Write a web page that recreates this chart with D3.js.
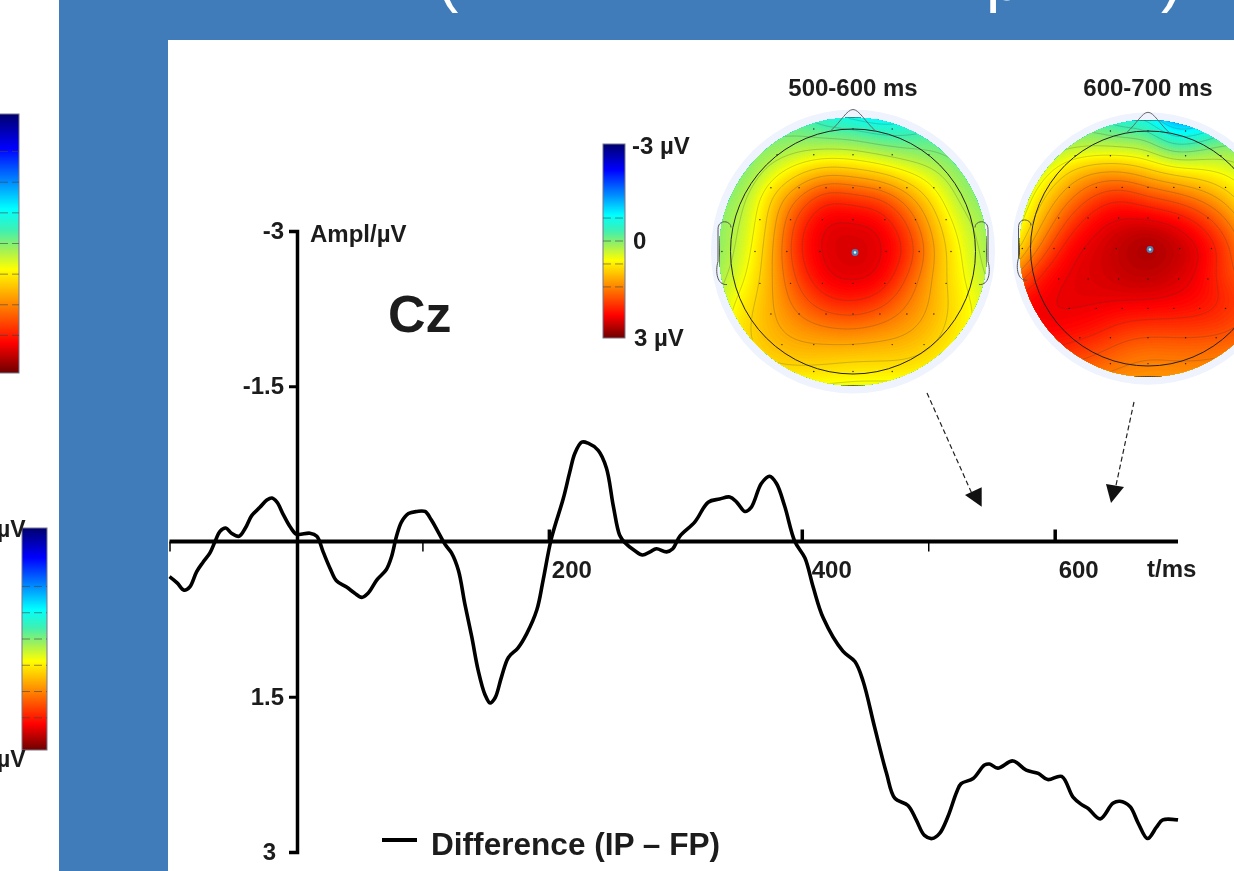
<!DOCTYPE html>
<html>
<head>
<meta charset="utf-8">
<script src="https://cdn.jsdelivr.net/npm/d3@7"></script>
<style>
  body { margin: 0; background: #fff; overflow: hidden; }
  svg { display: block; filter: blur(0.55px); }
  text { font-family: "Liberation Sans", Arial, sans-serif; font-weight: bold; fill: #1c1c1c; }
</style>
</head>
<body>
<div id="chart"></div>
<script>
// difference wave at Cz
var times = [-100,-94,-88.5,-84,-78.5,-73.5,-68,-64,-60,-55.5,-51,-45,-40,-35,-28.5,-23,-19,-15,-10,-4.5,0.5,11,16.5,21.5,27,32,40,46.5,52,57,64,71.5,75.5,79.5,83.5,89,95.5,102,107,112.5,118,123,128.5,133.5,139,144,149.5,153.5,157.5,162.5,168,175.5,182.5,190.5,195.5,202,211.5,216.5,220.5,226,231,239,245.5,251,256,260,268,274,280,285,293,298,303.5,315.5,326,335,343,348.5,355,360,368,374.5,380,386.5,394.5,402.5,409,417,432.5,442,448.5,457.5,467,473.5,484,490.5,497,503,509,515.5,522.5,526,535.5,544.5,548.5,555,567,577.5,587,594.5,605.5,614.5,621,626.5,636,646,651.5,659.5,666,673.5,680.5,685.5,697.5];
var amplitudes = [0.34,0.40,0.47,0.44,0.29,0.20,0.11,0,-0.10,-0.13,-0.08,-0.05,-0.13,-0.25,-0.33,-0.40,-0.42,-0.38,-0.26,-0.14,-0.07,-0.08,-0.05,0.10,0.26,0.38,0.44,0.50,0.54,0.50,0.37,0.27,0.15,-0.05,-0.19,-0.27,-0.29,-0.29,-0.21,-0.09,0.03,0.11,0.28,0.60,0.92,1.24,1.48,1.56,1.51,1.31,1.12,1.03,0.89,0.66,0.37,-0.03,-0.42,-0.67,-0.85,-0.96,-0.95,-0.88,-0.71,-0.34,-0.06,0.01,0.09,0.13,0.10,0.07,0.10,0.07,-0.05,-0.19,-0.38,-0.41,-0.43,-0.38,-0.29,-0.33,-0.56,-0.63,-0.56,-0.34,0,0.16,0.44,0.74,1.06,1.16,1.35,1.79,2.24,2.48,2.55,2.69,2.84,2.87,2.82,2.66,2.42,2.34,2.29,2.16,2.15,2.19,2.12,2.21,2.24,2.30,2.27,2.47,2.54,2.58,2.68,2.53,2.51,2.56,2.72,2.87,2.76,2.69,2.69];

var yTicks = [-3, -1.5, 1.5, 3];
var xMajorTicks = [200, 400, 600];
var xMajorLabelShift = [23, 30, 24];
var xMinorTicks = [-100, 100, 500];

// colour bar stops (uV -> colour)
var colorValues = [-3, -2.2, -1.4, -0.8, -0.3, 0.1, 0.6, 1.0, 1.45, 2.3, 3];
var colorStops = ['#00006e', '#0000ff', '#0090ff', '#00ffff', '#40f0b0', '#98f060', '#ffff00', '#ffc400', '#ff8000', '#ff0000', '#6e0000'];
var barTicks = [-2.13, -1.42, -0.71, 0, 0.71, 1.42, 2.13];

// scalp maps: uV on an 11x11 grid, top row = front of the head
var map500 = [
  [-0.1,-0.1,-0.1,-0.2,-0.5,-0.6,-0.8,-0.7,-0.4,-0.2,-0.1],
  [0,0,0,0.1,0.15,0.15,0,-0.1,-0.1,-0.2,-0.2],
  [-0.1,0,0.45,0.85,1.1,1.0,0.85,0.6,0.35,0.05,-0.1],
  [0,0.25,1.0,1.6,2.15,2.0,1.9,1.4,0.8,0.2,0],
  [0.1,0.35,1.1,2.1,2.5,2.5,2.45,1.9,1.1,0.45,0.15],
  [0.1,0.45,1.2,2.2,2.5,2.5,2.5,2.15,1.25,0.6,0.2],
  [0.2,0.6,1.2,1.95,2.45,2.5,2.45,1.8,1.15,0.65,0.3],
  [0.4,0.8,1.2,1.65,2.0,2.1,1.9,1.5,1.15,0.75,0.45],
  [0.5,0.9,1.15,1.3,1.4,1.45,1.35,1.25,1.05,0.7,0.5],
  [0.6,0.8,1.0,1.05,1.0,0.95,0.95,0.95,0.8,0.6,0.5],
  [0.5,0.55,0.6,0.6,0.6,0.55,0.55,0.55,0.5,0.45,0.4]
];
var map600 = [
  [-0.1,-0.1,-0.1,-0.2,-0.5,-0.5,-1.3,-1.2,-0.6,-0.3,-0.2],
  [0,0.1,0.2,0.25,0.25,0.2,-0.3,-0.1,0.1,0,0],
  [0.1,0.5,1.0,1.25,1.25,1.0,0.8,0.7,0.55,0.3,0.1],
  [0.3,0.95,1.5,1.95,2.15,1.85,1.7,1.45,1.1,0.6,0.3],
  [0.55,1.3,2.0,2.4,2.5,2.55,2.45,2.15,1.65,1.0,0.5],
  [0.9,1.75,2.4,2.5,2.65,2.8,2.65,2.5,2.0,1.3,0.7],
  [1.6,2.3,2.45,2.5,2.6,2.65,2.55,2.4,1.9,1.6,1.2],
  [2.3,2.4,2.45,2.45,2.45,2.45,2.4,2.3,2.1,1.9,1.6],
  [2.35,2.4,2.35,2.25,2.05,2.0,2.0,2.0,1.95,1.7,1.6],
  [2.0,2.1,2.0,1.85,1.65,1.55,1.6,1.6,1.55,1.5,1.4],
  [1.7,1.7,1.6,1.5,1.4,1.35,1.35,1.35,1.3,1.25,1.2]
];

// electrode rows, in head radii
var sensorRowsV = [-1, -0.79, -0.52, -0.26, 0, 0.26, 0.51, 0.76, 0.98];
var sensorRowsU = [
  [-0.32, 0, 0.32],
  [-0.62, -0.32, 0, 0.32, 0.62],
  [-0.67, -0.44, -0.22, 0, 0.22, 0.44, 0.66],
  [-0.76, -0.51, -0.25, 0, 0.26, 0.51, 0.76],
  [-1.07, -0.8, -0.54, -0.27, 0, 0.27, 0.54, 0.8, 1.07],
  [-0.76, -0.51, -0.25, 0, 0.26, 0.51, 0.76],
  [-0.67, -0.44, -0.22, 0, 0.22, 0.44, 0.66],
  [-0.58, -0.32, 0, 0.32, 0.58],
  [-0.32, 0, 0.32]
];

var svgWidth = 1234;
var svgHeight = 871;

var svg = d3.select('#chart')
  .append('svg')
  .attr('width', svgWidth)
  .attr('height', svgHeight);

// slide background
svg.append('rect').attr('x', 59).attr('y', 0).attr('width', svgWidth - 59).attr('height', svgHeight).attr('fill', '#3f7cb9');
svg.append('rect').attr('x', 168).attr('y', 40).attr('width', svgWidth - 168).attr('height', svgHeight - 40).attr('fill', '#fff');

// bottoms of the slide title, the rest is off the page
var titleGroup = svg.append('g').attr('class', 'title');
titleGroup.selectAll('text')
  .data([{ s: '(', x: 437 }, { s: 'p', x: 986 }, { s: ')', x: 1161 }])
  .enter()
  .append('text')
  .attr('x', d => d.x)
  .attr('y', 0)
  .attr('font-size', 64)
  .style('font-weight', 'normal')
  .style('fill', '#fff')
  .text(d => d.s);

var color = d3.scaleLinear().domain(colorValues).range(colorStops);

var gradient = svg.append('defs').append('linearGradient')
  .attr('id', 'jet').attr('x1', 0).attr('x2', 0).attr('y1', 0).attr('y2', 1);
gradient.selectAll('stop')
  .data(colorValues)
  .enter()
  .append('stop')
  .attr('offset', d => (d + 3) / 6)
  .attr('stop-color', d => color(d));

function drawBar(x, width, top, bottom, ticks) {
  var scale = d3.scaleLinear().domain([-3, 3]).range([top, bottom]);
  svg.append('rect')
    .attr('x', x).attr('y', top).attr('width', width).attr('height', bottom - top)
    .attr('fill', 'url(#jet)')
    .attr('stroke', '#77778a').attr('stroke-width', 1);
  svg.selectAll(null)
    .data(ticks)
    .enter()
    .append('line')
    .attr('x1', x).attr('x2', x + width)
    .attr('y1', d => scale(d)).attr('y2', d => scale(d))
    .attr('stroke', '#444').attr('stroke-opacity', 0.6)
    .attr('stroke-dasharray', '8 4');
}

drawBar(-12, 31, 114, 373, barTicks);
drawBar(22, 25, 528, 750, barTicks.slice(1));
drawBar(603, 22, 144, 338, barTicks.slice(2, 6));

var sideLabels = [
  { s: 'µV', x: -3, y: 537, size: 23 },
  { s: 'µV', x: -3, y: 767, size: 23 },
  { s: '-3 µV', x: 632, y: 154, size: 24 },
  { s: '0', x: 633, y: 249, size: 24 },
  { s: '3 µV', x: 634, y: 346, size: 24 }
];
svg.selectAll(null)
  .data(sideLabels)
  .enter()
  .append('text')
  .attr('x', d => d.x).attr('y', d => d.y)
  .attr('font-size', d => d.size)
  .text(d => d.s);

// smooth the read grid before contouring, just for drawing
function upsample(grid, n) {
  var rows = grid.map(r => d3.quantize(d3.interpolateBasis(r), n));
  var cols = d3.range(n).map(i => d3.quantize(d3.interpolateBasis(rows.map(r => r[i])), n));
  var flat = [];
  for (var j = 0; j < n; j++) {
    for (var i = 0; i < n; i++) {
      flat.push(cols[i][j]);
    }
  }
  return flat;
}

function drawMap(id, grid, cx, cy, radius, label) {
  var k = radius / 122.5;   // head size relative to first map
  var discR = radius * 134 / 122.5;
  var n = 111;
  var g = svg.append('g').attr('class', 'scalp-' + id);

  g.append('text')
    .attr('x', cx).attr('y', 96)
    .attr('text-anchor', 'middle')
    .attr('font-size', 24)
    .text(label);

  // pale halo
  g.append('circle').attr('cx', cx).attr('cy', cy).attr('r', radius * 142 / 122.5).attr('fill', '#eef3fd');

  svg.select('defs').append('clipPath').attr('id', 'disc-' + id)
    .append('circle').attr('cx', cx).attr('cy', cy).attr('r', discR);

  var values = upsample(grid, n);
  var path = d3.geoPath(d3.geoIdentity().scale(2 * discR / n).translate([cx - discR, cy - discR]));
  var bands = d3.contours().size([n, n]).thresholds(d3.range(-2, 3.01, 0.04))(values);
  var lines = d3.contours().size([n, n]).thresholds(d3.range(-2.7, 3, 0.3))(values);

  var disc = g.append('g').attr('clip-path', 'url(#disc-' + id + ')');
  disc.append('circle').attr('cx', cx).attr('cy', cy).attr('r', discR).attr('fill', color(d3.min(values)));
  disc.selectAll('path.band')
    .data(bands)
    .enter()
    .append('path')
    .attr('class', 'band')
    .attr('d', path)
    .attr('fill', d => color(d.value))
    .attr('stroke', d => color(d.value))
    .attr('stroke-width', 0.4);
  disc.selectAll('path.iso')
    .data(lines)
    .enter()
    .append('path')
    .attr('class', 'iso')
    .attr('d', path)
    .attr('fill', 'none')
    .attr('stroke', '#3a3a3a')
    .attr('stroke-opacity', 0.4)
    .attr('stroke-width', 0.6);

  // sensors
  sensorRowsV.forEach(function(v, r) {
    g.selectAll(null)
      .data(sensorRowsU[r])
      .enter()
      .append('circle')
      .attr('cx', u => cx + u * radius)
      .attr('cy', cy + v * radius)
      .attr('r', 0.7)
      .attr('fill', '#222');
  });

  // head outline, nose, ears
  g.append('circle').attr('cx', cx).attr('cy', cy).attr('r', radius)
    .attr('fill', 'none').attr('stroke', '#222').attr('stroke-width', 1);
  var nose = d3.path();
  nose.moveTo(cx - 22 * k, cy - 121 * k);
  nose.bezierCurveTo(cx - 12 * k, cy - 130 * k, cx - 6 * k, cy - 142 * k, cx, cy - 142 * k);
  nose.bezierCurveTo(cx + 6 * k, cy - 142 * k, cx + 12 * k, cy - 130 * k, cx + 23 * k, cy - 120 * k);
  g.append('path').attr('d', nose.toString()).attr('fill', 'none').attr('stroke', '#666').attr('stroke-width', 1);
  [-1, 1].forEach(function(side) {
    var ear = d3.path();
    ear.moveTo(cx + side * 122 * k, cy - 24 * k);
    ear.bezierCurveTo(cx + side * 122 * k, cy - 31 * k, cx + side * 135 * k, cy - 33 * k, cx + side * 135 * k, cy - 22 * k);
    ear.lineTo(cx + side * 135 * k, cy + 10 * k);
    ear.bezierCurveTo(cx + side * 138 * k, cy + 20 * k, cx + side * 136 * k, cy + 34 * k, cx + side * 126 * k, cy + 33 * k);
    g.append('path').attr('d', ear.toString()).attr('fill', 'none').attr('stroke', '#555').attr('stroke-width', 1);
  });

  // Cz marker
  g.append('circle').attr('cx', cx + 2).attr('cy', cy + 1).attr('r', 3.4).attr('fill', '#4f7fb0');
  g.append('circle').attr('cx', cx + 2).attr('cy', cy + 1).attr('r', 1.2).attr('fill', '#dff');
}

drawMap('a', map500, 853, 251.5, 122.5, '500-600 ms');
drawMap('b', map600, 1148, 248.5, 117.5, '600-700 ms');

// dashed arrows from the maps down to the time axis
var arrows = [
  { x1: 927, y1: 393, x2: 973, y2: 496, head: '965,495 981.7,487.3 981.7,506.7' },
  { x1: 1134, y1: 402, x2: 1115, y2: 490, head: '1106,484 1124,487 1111,503' }
];
svg.selectAll(null)
  .data(arrows)
  .enter()
  .append('line')
  .attr('x1', d => d.x1).attr('y1', d => d.y1)
  .attr('x2', d => d.x2).attr('y2', d => d.y2)
  .attr('stroke', '#222').attr('stroke-width', 1.2)
  .attr('stroke-dasharray', '5 3');
svg.selectAll(null)
  .data(arrows)
  .enter()
  .append('polygon')
  .attr('points', d => d.head)
  .attr('fill', '#111');

// ERP plot
var xScale = d3.scaleLinear().domain([-100, 600]).range([169.5, 1054.7]);
var yScale = d3.scaleLinear().domain([-3, 3]).range([231, 852]);
var xEnd = 1178;

var yAxis = d3.axisLeft(yScale)
  .tickValues(yTicks)
  .tickSize(8)
  .tickPadding(5)
  .tickFormat(d => String(d));
var yGroup = svg.append('g')
  .attr('transform', 'translate(297,0)')
  .call(yAxis);
yGroup.select('.domain').attr('stroke', '#000').attr('stroke-width', 3.5);
yGroup.selectAll('.tick line').attr('stroke', '#000').attr('stroke-width', 3);
yGroup.selectAll('.tick text')
  .attr('font-size', 24)
  .attr('font-family', null)
  .style('fill', '#1c1c1c');
// the bottom label sits further out in the picture
yGroup.selectAll('.tick text').filter(d => d === 3).attr('dx', -8);

var xAxisMajor = d3.axisTop(xScale)
  .tickValues(xMajorTicks)
  .tickSize(12)
  .tickFormat('');
var xMajorGroup = svg.append('g')
  .attr('transform', 'translate(0,' + yScale(0) + ')')
  .call(xAxisMajor);
xMajorGroup.select('.domain').remove();
xMajorGroup.selectAll('.tick line').attr('stroke', '#000').attr('stroke-width', 3.5);

var xAxisMinor = d3.axisBottom(xScale)
  .tickValues(xMinorTicks)
  .tickSize(10)
  .tickFormat('');
var xMinorGroup = svg.append('g')
  .attr('transform', 'translate(0,' + yScale(0) + ')')
  .call(xAxisMinor);
xMinorGroup.select('.domain').remove();
xMinorGroup.selectAll('.tick line').attr('stroke', '#000').attr('stroke-width', 1.5);

svg.append('line')
  .attr('x1', xScale(-100)).attr('x2', xEnd)
  .attr('y1', yScale(0)).attr('y2', yScale(0))
  .attr('stroke', '#000').attr('stroke-width', 4);

svg.selectAll(null)
  .data(xMajorTicks)
  .enter()
  .append('text')
  .attr('x', (d, i) => xScale(d) + xMajorLabelShift[i])
  .attr('y', yScale(0) + 36)
  .attr('text-anchor', 'middle')
  .attr('font-size', 24)
  .text(d => d);

var waveLine = d3.line()
  .x((d, i) => xScale(times[i]))
  .y(d => yScale(d))
  .curve(d3.curveCatmullRom);

svg.append('path')
  .datum(amplitudes)
  .attr('d', waveLine)
  .attr('fill', 'none')
  .attr('stroke', '#000')
  .attr('stroke-width', 3.6)
  .attr('stroke-linejoin', 'round');

svg.append('text').attr('x', 310).attr('y', 242).attr('font-size', 24).text('Ampl/µV');
svg.append('text').attr('x', 388).attr('y', 332).attr('font-size', 52).text('Cz');
svg.append('text').attr('x', 1147).attr('y', 577).attr('font-size', 24).text('t/ms');

// legend
svg.append('line').attr('x1', 382).attr('x2', 417).attr('y1', 840).attr('y2', 840)
  .attr('stroke', '#000').attr('stroke-width', 4);
svg.append('text').attr('x', 431).attr('y', 855).attr('font-size', 31.6).text('Difference (IP – FP)');
</script>
</body>
</html>
